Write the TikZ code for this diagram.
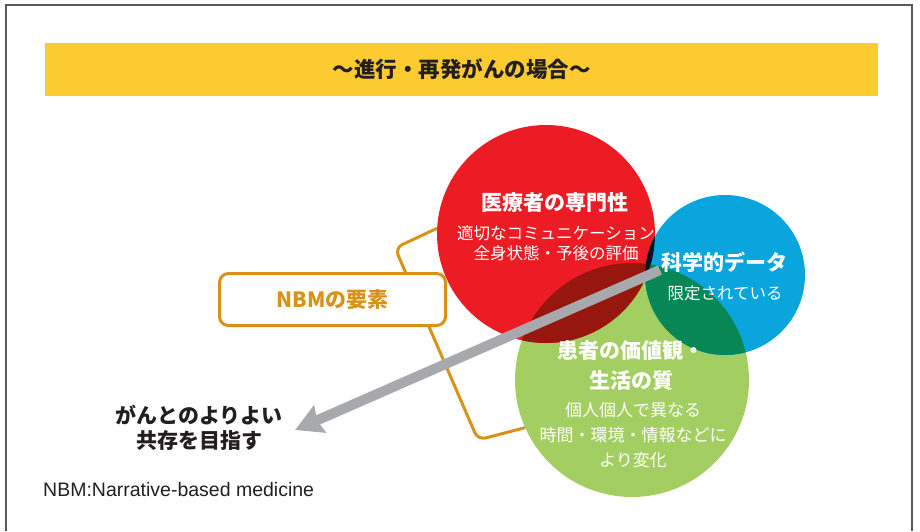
\documentclass[tikz,border=0pt]{standalone}
\usepackage{fontspec}
\setmainfont{Liberation Sans}
\newfontfamily\jp{Noto Sans CJK JP}
\usetikzlibrary{arrows.meta}
\definecolor{banner}{HTML}{FCCB2F}
\definecolor{cred}{HTML}{ED1C24}
\definecolor{cblue}{HTML}{0BA5DD}
\definecolor{cgreen}{HTML}{A3CF62}
\definecolor{cdred}{HTML}{97170E}
\definecolor{cdgreen}{HTML}{068755}
\definecolor{cdblue}{HTML}{0A131F}
\definecolor{corange}{HTML}{D8921A}
\definecolor{cgrey}{HTML}{A7A9AC}
\definecolor{cdark}{HTML}{231F20}
\tikzset{
  frameline/.style={draw=gray!70!black, line width=1.2pt},
  titletext/.style={font=\jp\bfseries\fontsize{21.5}{25}\selectfont, text=cdark, inner sep=0pt},
  bigtext/.style={font=\jp\bfseries\fontsize{21}{30}\selectfont, text=white, align=center, inner sep=0pt},
  smalltext/.style={font=\jp\fontsize{16.5}{20}\selectfont, text=white, align=center, inner sep=0pt},
  greensmall/.style={font=\jp\fontsize{17}{25}\selectfont, text=white, align=center, inner sep=0pt},
  goaltext/.style={font=\jp\bfseries\fontsize{21}{25}\selectfont, text=cdark, align=center, inner sep=0pt},
  disc/.style={circle, inner sep=0pt},
  bracketline/.style={draw=corange, line width=3pt, rounded corners=8pt},
  nbmbox/.style={draw=corange, line width=3pt, rounded corners=9pt, fill=white,
    minimum width=226pt, minimum height=52pt, inner sep=0pt,
    font=\jp\bfseries\fontsize{21}{25}\selectfont, text=corange},
  arrowline/.style={draw=cgrey, line width=10pt, -{Stealth[length=27pt,width=29pt,inset=3pt]}},
}
\begin{document}
\begin{tikzpicture}[x=1pt,y=-1pt]
\useasboundingbox (0,0) rectangle (920,531);
\coordinate (fbl) at (6,531);
\coordinate (ftl) at (6,5);
\coordinate (ftr) at (912,5);
\coordinate (fbr) at (912,531);
\draw[frameline] (fbl) -- (ftl) -- (ftr) -- (fbr);
\node[fill=banner, minimum width=833pt, minimum height=53pt, inner sep=0pt] (banner) at (461.5,69.5) {};
\node[titletext] (title) at (banner.center) {～進行・再発がんの場合～};
% circles
\node[disc, fill=cgreen, minimum size=234pt] (green) at (632,380) {};
\node[disc, fill=cred, minimum size=218pt] (red) at (546,234) {};
\node[disc, fill=cblue, minimum size=160pt] (blue) at (725,275) {};
% bracket
\coordinate (bc1) at (395,248);
\coordinate (bc2) at (478,440);
\draw[bracketline] (red.177) -- (bc1) -- (bc2) -- (green.204);
% overlaps
\begin{scope}
  \clip (red.center) circle[radius=109pt];
  \fill[cdred] (green.center) circle[radius=117pt];
\end{scope}
\begin{scope}
  \clip (blue.center) circle[radius=80pt];
  \fill[cdgreen] (green.center) circle[radius=117pt];
\end{scope}
\begin{scope}
  \clip (red.center) circle[radius=109pt];
  \fill[cdblue] (blue.center) circle[radius=80pt];
\end{scope}
% box
\node[nbmbox] (nbm) at (332.5,299.5) {NBMの要素};
% arrow
\coordinate (tail) at (660,270);
\coordinate (tip) at (295,430);
\draw[arrowline] (tail) -- (tip);
% texts
\node[bigtext] (redT) at (555,203) {医療者の専門性};
\node[smalltext] (redS) at (556,243) {適切なコミュニケーション\\全身状態・予後の評価};
\node[bigtext] (blueT) at (724,262) {科学的データ};
\node[smalltext] (blueS) at (725,293) {限定されている};
\node[bigtext] (greenT) at (631,365) {患者の価値観・\\生活の質};
\node[greensmall] (greenS) at (633,435) {個人個人で異なる\\時間・環境・情報などに\\より変化};
\node[goaltext] (goal) at (199,428) {がんとのよりよい\\共存を目指す};
\node[anchor=west, inner sep=0pt, font=\fontsize{19.5}{22}\selectfont, text=cdark] (foot) at (43,490) {NBM:Narrative-based medicine};
\end{tikzpicture}
\end{document}
